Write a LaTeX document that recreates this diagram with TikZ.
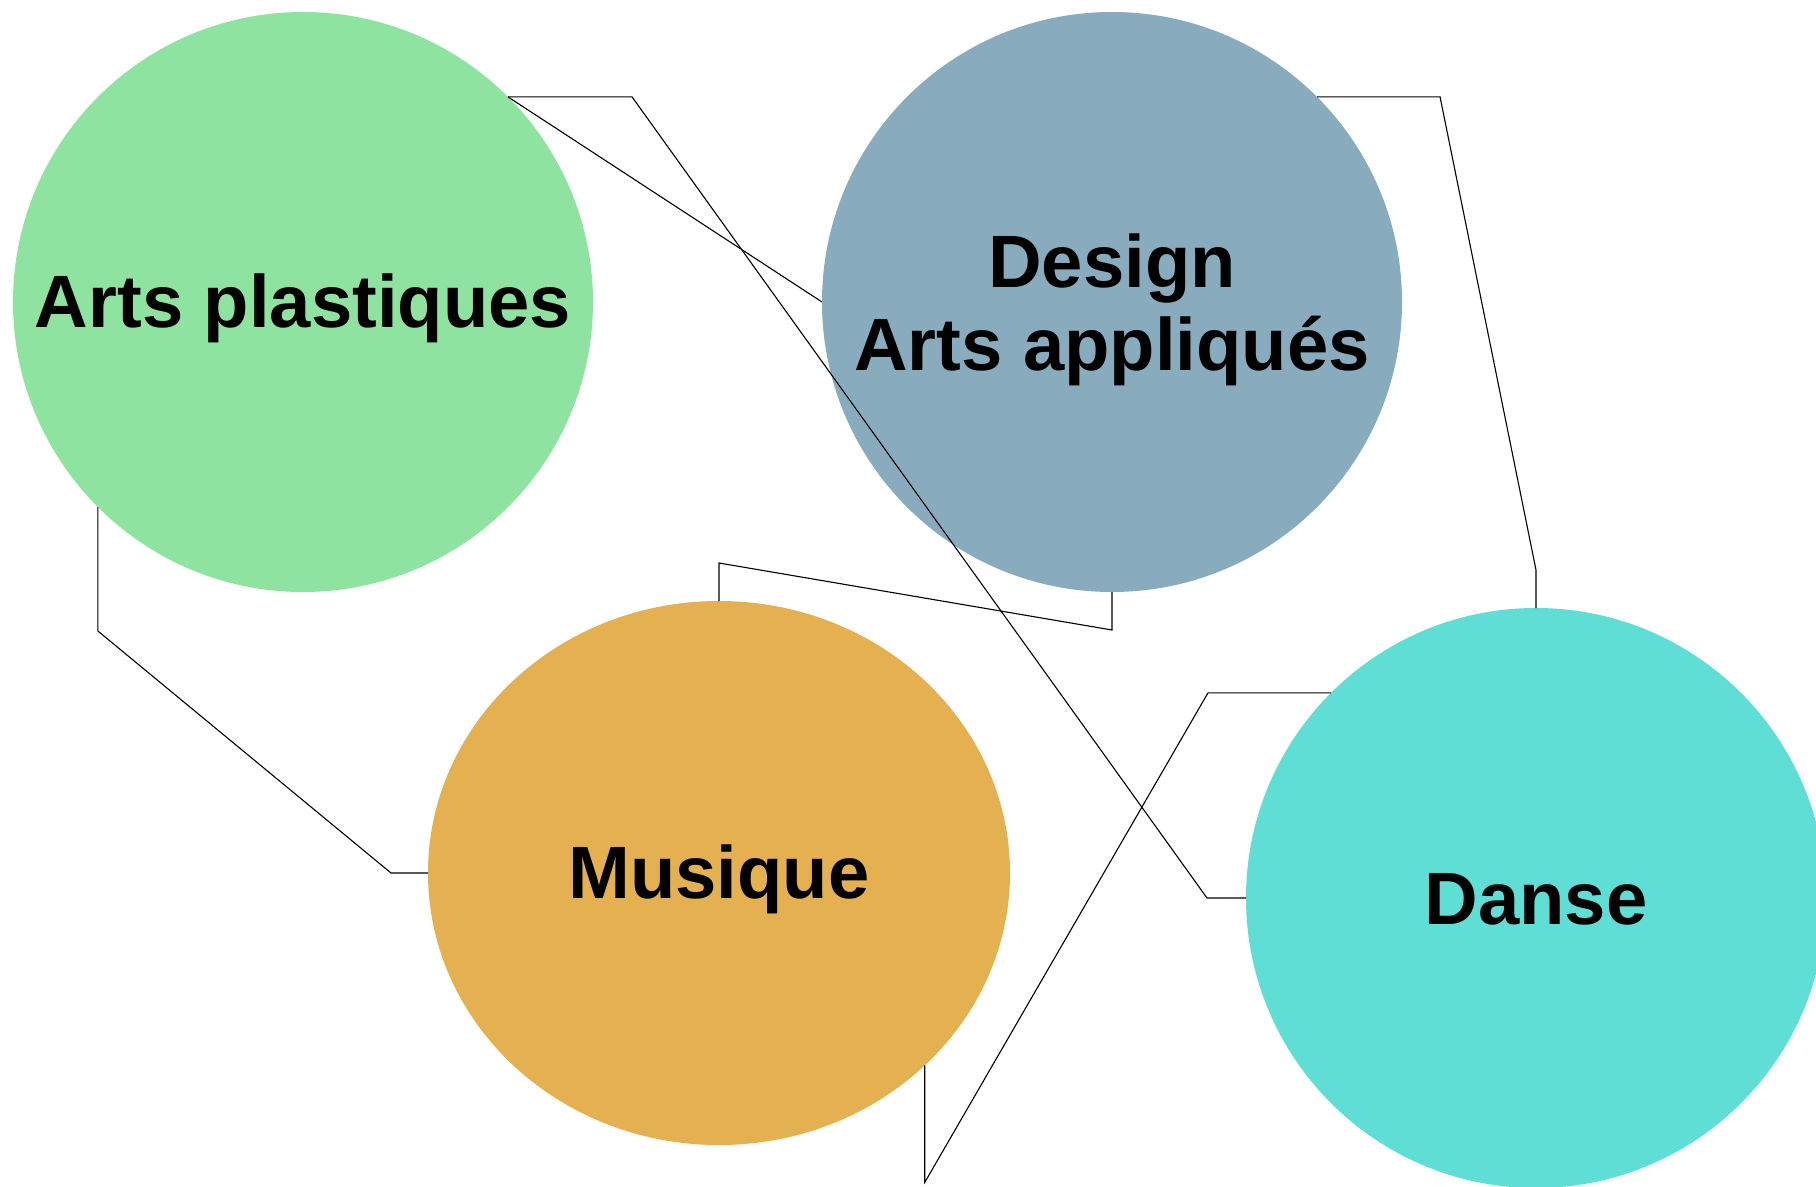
\documentclass[tikz,border=0pt]{standalone}
\usepackage{fontspec}
\setmainfont{Liberation Sans}
\usetikzlibrary{shapes.geometric,calc}
\definecolor{cAP}{HTML}{8FE3A0}
\definecolor{cDE}{HTML}{88ACBE}
\definecolor{cMU}{HTML}{E5B04F}
\definecolor{cDA}{HTML}{5FDED6}
\tikzset{
  blob/.style={ellipse, draw=none, inner sep=0pt, outer sep=0pt},
  lbl/.style={font=\bfseries\fontsize{37.1}{41.5}\selectfont, align=center, inner sep=0pt},
  conn/.style={draw=black, line width=0.55pt, line join=miter}
}
\begin{document}
\begin{tikzpicture}[x=0.5pt, y=-0.5pt]
\clip (0,0) rectangle (1816,1187);
\useasboundingbox (0,0) rectangle (1816,1187);
\fill[white] (0,0) rectangle (1816,1187);
\node[blob, fill=cAP, minimum width=290pt, minimum height=290pt] (AP) at (303,302) {};
\node[blob, fill=cDE, minimum width=290pt, minimum height=290pt] (DE) at (1112,302) {};
\node[blob, fill=cMU, minimum width=291pt, minimum height=272pt] (MU) at (719,873) {};
\node[blob, fill=cDA, minimum width=290pt, minimum height=290pt] (DA) at (1536,898) {};
\node[lbl] (tAP) at ($(AP.center)+(0,6)$) {Arts plastiques};
\node[lbl] (tDE) at ($(DE.center)+(0,8)$) {Design\\Arts appliqués};
\node[lbl] (tMU) at ($(MU.center)+(0,6)$) {Musique};
\node[lbl] (tDA) at ($(DA.center)+(0,1)$) {Danse};
\draw[conn] (AP.north east) -- ++(124,0) -- ($(DA.west)+(-39,0)$) -- (DA.west);
\draw[conn] (AP.north east) -- (DE.west);
\draw[conn] (AP.south west) -- ++(0,124) -- ($(MU.west)+(-37,0)$) -- (MU.west);
\draw[conn] (DE.south) -- ++(0,38) -- ($(MU.north)+(0,-38)$) -- (MU.north);
\draw[conn] (DE.north east) -- ++(123,0) -- ($(DA.north)+(0,-38)$) -- (DA.north);
\draw[conn] (MU.south east) -- ++(0,117) -- ($(DA.north west)+(-123,0)$) -- (DA.north west);
\end{tikzpicture}
\end{document}
